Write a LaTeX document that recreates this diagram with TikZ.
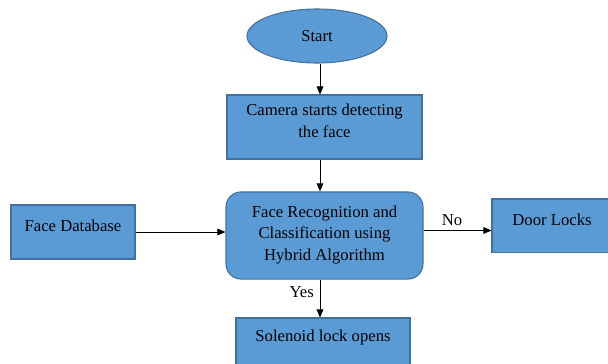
\documentclass[tikz,border=0pt]{standalone}
\usepackage{fontspec}
\setmainfont{Liberation Serif}
\usetikzlibrary{shapes.geometric,arrows.meta}
\definecolor{boxfill}{HTML}{5B9BD5}
\definecolor{boxline}{HTML}{41719C}
\begin{document}
\begin{tikzpicture}[x=0.75pt,y=-0.75pt,
                font=\fontsize{12.5}{16.3}\selectfont,
                block/.style={draw=boxline,fill=boxfill,line width=0.8pt,inner sep=0pt,align=center},
                flow/.style={-{Triangle[length=6pt,width=5pt]},line width=0.6pt}]
                \useasboundingbox (0,0) rectangle (608,364);
                %% top of the chart
                \node[block,ellipse,minimum width=105pt,minimum height=40.5pt] (start) at (317,36) {Start};
                \node[block,minimum width=146.25pt,text height=31.9pt,text depth=16.1pt] (camera) at (324.5,127) {Camera starts detecting\\the face};
                \node[block,rounded corners=11.25pt,minimum width=147.75pt,text height=51.4pt,text depth=13.9pt] (recog) at (324.5,235.5) {Face Recognition and\\Classification using\\Hybrid Algorithm};
                %% side boxes
                \node[block,minimum width=93pt,text height=19.9pt,text depth=20.6pt] (db) at (73,232) {Face Database};
                \node[block,minimum width=90pt,text height=19.9pt,text depth=19.9pt] (door) at (552,225.5) {Door Locks};
                \node[block,minimum width=130.5pt,text height=17.6pt,text depth=28.9pt] (sol) at (323,349) {Solenoid lock opens};
                %% arrows
                \coordinate (axis) at (320,0);
                \draw[flow] (start.south -| axis) -- (camera.north -| axis);
                \draw[flow] (camera.south -| axis) -- (recog.north -| axis);
                \draw[flow] (recog.south -| axis) -- node[pos=0.33,left=1pt] (yes) {Yes} (sol.north -| axis);
                \draw[flow] (db.east) -- (db.east -| recog.west);
                \draw[flow] ([yshift=3.75pt]recog.east) -- node[pos=0.42,above=0pt] (no) {No} ([yshift=3.75pt]recog.east -| door.west);
            \end{tikzpicture}
\end{document}
